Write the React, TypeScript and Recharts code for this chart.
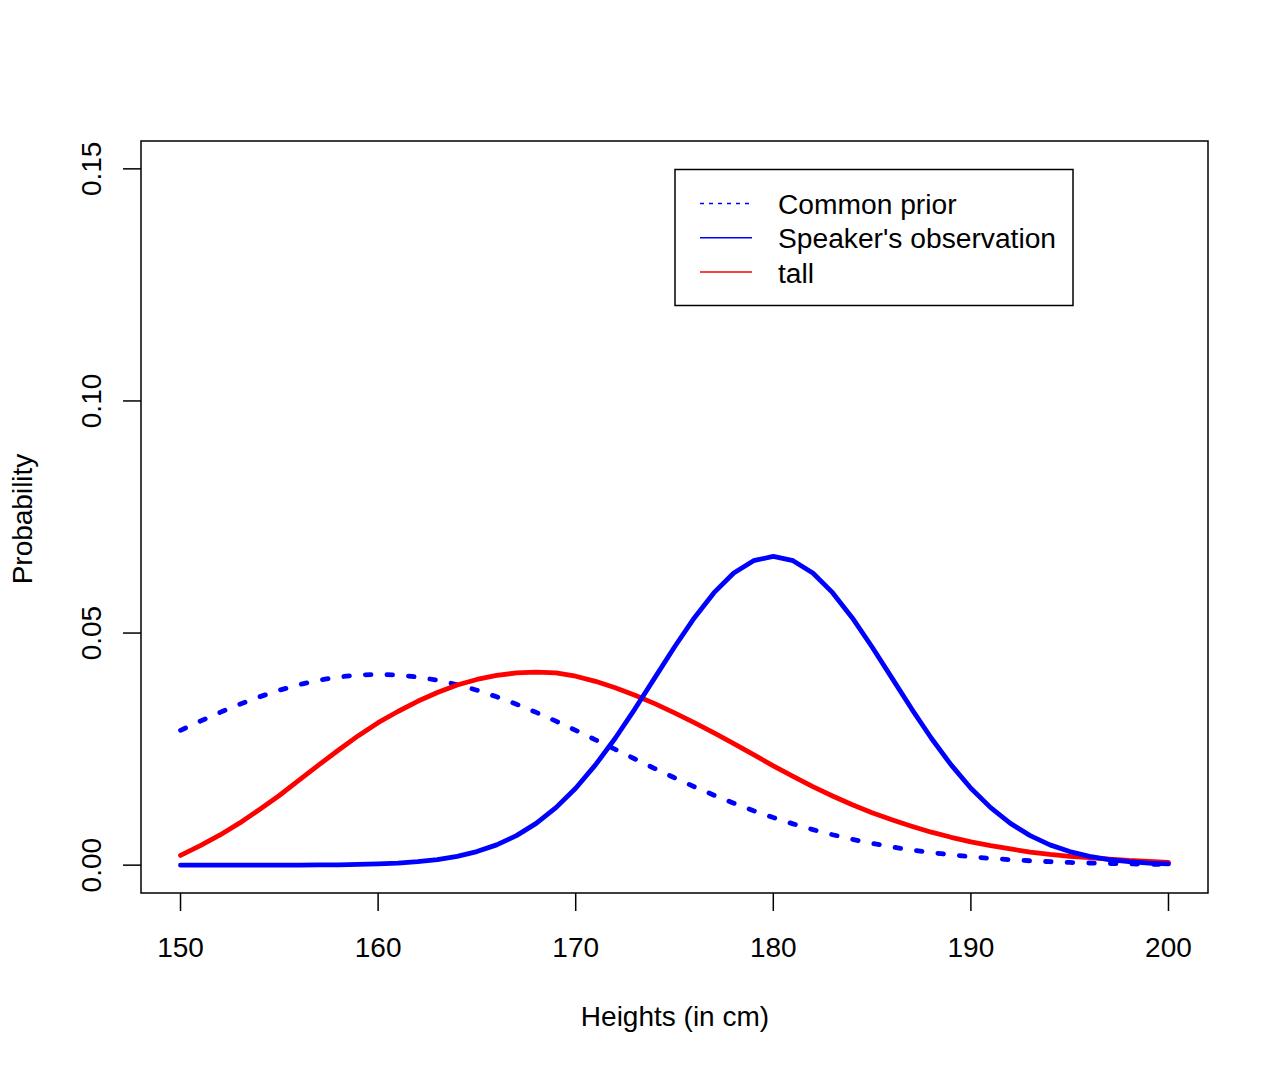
import { LineChart, Line, XAxis, YAxis, ReferenceArea } from 'recharts';

// heights on the x axis, one point per cm
const heights = [
  150, 151, 152, 153, 154, 155, 156, 157, 158, 159,
  160, 161, 162, 163, 164, 165, 166, 167, 168, 169,
  170, 171, 172, 173, 174, 175, 176, 177, 178, 179,
  180, 181, 182, 183, 184, 185, 186, 187, 188, 189,
  190, 191, 192, 193, 194, 195, 196, 197, 198, 199, 200,
];

const commonPrior = [
  0.02904, 0.03102, 0.03291, 0.03467, 0.03627, 0.03769, 0.03888, 0.03984, 0.04053, 0.04096,
  0.04110, 0.04096, 0.04053, 0.03984, 0.03888, 0.03769, 0.03627, 0.03467, 0.03291, 0.03102,
  0.02904, 0.02700, 0.02493, 0.02286, 0.02081, 0.01882, 0.01690, 0.01507, 0.01334, 0.01173,
  0.01025, 0.00889, 0.00765, 0.00655, 0.00556, 0.00469, 0.00393, 0.00327, 0.00270, 0.00222,
  0.00181, 0.00146, 0.00117, 0.00094, 0.00074, 0.00058, 0.00046, 0.00035, 0.00027, 0.00021, 0.00016,
];

const speakerObs = [
  0.0000002, 0.0000005, 0.0000012, 0.0000026, 0.0000055, 0.0000113, 0.0000223, 0.0000428, 0.00008, 0.000145,
  0.000257, 0.000442, 0.000739, 0.0012, 0.0019, 0.00292, 0.00437, 0.00636, 0.009, 0.01239,
  0.01658, 0.02159, 0.02734, 0.03368, 0.04034, 0.047, 0.05326, 0.0587, 0.06292, 0.06559,
  0.06651, 0.06559, 0.06292, 0.0587, 0.05326, 0.047, 0.04034, 0.03368, 0.02734, 0.02159,
  0.01658, 0.01239, 0.009, 0.00636, 0.00437, 0.00292, 0.0019, 0.0012, 0.000739, 0.000442, 0.000257,
];

const tall = [
  0.0021, 0.0042, 0.0065, 0.0091, 0.0120, 0.0150, 0.0183, 0.0216, 0.0248, 0.0279,
  0.0307, 0.0331, 0.0353, 0.0372, 0.0388, 0.0400, 0.0409, 0.0414, 0.0416, 0.0414,
  0.0407, 0.0396, 0.0382, 0.0366, 0.0348, 0.0328, 0.0307, 0.0285, 0.0262, 0.0238,
  0.0214, 0.0191, 0.0169, 0.0149, 0.0130, 0.0113, 0.0098, 0.0084, 0.0071, 0.0060,
  0.0050, 0.0042, 0.0035, 0.0028, 0.0023, 0.0019, 0.0016, 0.0013, 0.0010, 0.0008, 0.0006,
];

const xTicks = [150, 160, 170, 180, 190, 200];
const yTicks = [0, 0.05, 0.1, 0.15];

const legendItems = [
  { label: 'Common prior', color: '#0000ff', dash: '4 5' },
  { label: "Speaker's observation", color: '#0000ff', dash: undefined },
  { label: 'tall', color: '#ff0000', dash: undefined },
];

const data = heights.map((h, i) => ({
  h,
  prior: commonPrior[i],
  obs: speakerObs[i],
  tall: tall[i],
}));

const FONT = '"Liberation Sans", Arial, Helvetica, sans-serif';

const XTick = ({ x, payload }: { x?: number; payload?: { value: number } }) => (
  <text x={x} y={957} textAnchor="middle" fontSize={28} fontFamily={FONT} fill="#000">
    {payload?.value}
  </text>
);

const YTick = ({ y, payload }: { y?: number; payload?: { value: number } }) => (
  <text
    transform={`translate(100.5, ${y}) rotate(-90)`}
    textAnchor="middle"
    fontSize={28}
    fontFamily={FONT}
    fill="#000"
  >
    {payload ? payload.value.toFixed(2) : ''}
  </text>
);

export default function App() {
  return (
    <div style={{ position: 'absolute', left: 0, top: 0, width: 1281, height: 1070, background: '#fff', fontFamily: FONT }}>
      <LineChart width={1281} height={1070} data={data} margin={{ top: 141, right: 73, bottom: 0, left: 0 }}>
        <XAxis
          dataKey="h"
          type="number"
          domain={[148, 202]}
          allowDataOverflow
          ticks={xTicks}
          interval={0}
          height={177}
          axisLine={false}
          tickSize={18}
          tickLine={{ stroke: '#000', strokeWidth: 1.5 }}
          tick={<XTick />}
        />
        <YAxis
          type="number"
          domain={[-0.006, 0.156]}
          allowDataOverflow
          ticks={yTicks}
          interval={0}
          width={141}
          axisLine={false}
          tickSize={18}
          tickLine={{ stroke: '#000', strokeWidth: 1.5 }}
          tick={<YTick />}
        />
        <ReferenceArea x1={148} x2={202} y1={-0.006} y2={0.156} fill="none" stroke="#000" strokeWidth={1.5} />
        <Line
          dataKey="prior"
          type="linear"
          stroke="#0000ff"
          strokeWidth={4.8}
          strokeDasharray="5.6 16"
          strokeLinecap="round"
          dot={false}
          activeDot={false}
          isAnimationActive={false}
        />
        <Line
          dataKey="tall"
          type="linear"
          stroke="#ff0000"
          strokeWidth={4.8}
          strokeLinecap="round"
          strokeLinejoin="round"
          dot={false}
          activeDot={false}
          isAnimationActive={false}
        />
        <Line
          dataKey="obs"
          type="linear"
          stroke="#0000ff"
          strokeWidth={4.8}
          strokeLinecap="round"
          strokeLinejoin="round"
          dot={false}
          activeDot={false}
          isAnimationActive={false}
        />
      </LineChart>

      <svg width={1281} height={1070} style={{ position: 'absolute', left: 0, top: 0, pointerEvents: 'none' }}>
        <text x={675} y={1026} textAnchor="middle" fontSize={28} fontFamily={FONT} fill="#000">
          Heights (in cm)
        </text>
        <text transform="translate(32, 519) rotate(-90)" textAnchor="middle" fontSize={28} fontFamily={FONT} fill="#000">
          Probability
        </text>

        <rect x={675} y={169.5} width={398} height={136} fill="#fff" stroke="#000" strokeWidth={1.5} />
        {legendItems.map((item, i) => (
          <g key={item.label}>
            <line
              x1={700}
              x2={752}
              y1={203.5 + i * 34.2}
              y2={203.5 + i * 34.2}
              stroke={item.color}
              strokeWidth={1.5}
              strokeDasharray={item.dash}
            />
            <text x={778} y={214 + i * 34.4} fontSize={28.2} fontFamily={FONT} fill="#000">
              {item.label}
            </text>
          </g>
        ))}
      </svg>
    </div>
  );
}
